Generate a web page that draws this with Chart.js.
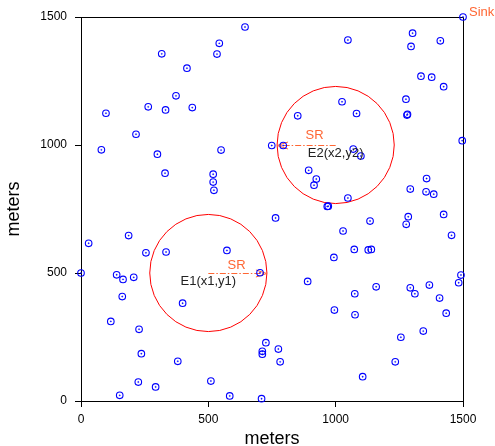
<!DOCTYPE html>
<html><head><meta charset="utf-8">
<script src="https://cdn.jsdelivr.net/npm/chart.js@4/dist/chart.umd.min.js"></script>
<style>html,body{margin:0;padding:0;background:#fff}</style>
</head><body>
<canvas id="c" width="495" height="446"></canvas>
<script>
// ---- data ----
const sensorX = [644,543,317,534,416,373,264,332,437,98,216,80,550,749,794,
  1302,1048,1296,1411,1335,1377,1424,1276,1280,1282,1025,1082,851,1497,1069,1099,
  894,924,915,1048,967,971,1357,1293,1355,1385,1424,764,1135,1285,1277,1455,1029,
  1073,1128,1140,993,890,1492,1483,1159,1293,1368,703,1075,1311,1408,1434,995,1076,
  1344,1256,1234,1106,726,712,712,775,782,709,162,399,117,228,237,380,225,293,152,
  510,584,300,330,519,519,522,187,30,255,334,573,0,140,165,207];
const sensorY = [1461,1397,1356,1355,1300,1192,1149,1137,1146,1124,1042,981,980,998,998,
  1437,1410,1385,1407,1269,1265,1228,1179,1117,1120,1169,1123,1114,1017,984,957,
  901,867,843,793,760,761,869,828,817,808,729,715,703,720,690,647,664,
  592,590,592,561,467,492,462,446,442,453,501,419,419,402,343,355,337,
  273,249,153,95,228,194,183,203,153,9,408,382,311,280,185,155,74,55,22,
  78,20,964,890,886,855,823,646,616,579,582,588,500,493,475,483];
const sinkX = [1500];
const sinkY = [1500];
const sinkLabel = ['Sink'];
const clusterNames = ['E1(x1,y1)', 'E2(x2,y2)'];
const clusterX = [500, 1000];
const clusterY = [500, 1000];
const clusterR = [230, 230];
const srDirection = [1, -1];
const clusterLabelX = [500, 1000];
const clusterLabelY = [466, 968];
const srLabel = ['SR', 'SR'];
const srLabelX = [611, 917];
const srLabelY = [531, 1039];
const tickValues = [0, 500, 1000, 1500];
const axisTitle = 'meters';

const FONT = '"Liberation Sans", Arial, Helvetica, sans-serif';
const ORANGE = '#ff6633';
const BLUE = '#0000ff';

const pts = sensorX.map((x, i) => ({x, y: sensorY[i]}));
const sinkPts = sinkX.map((x, i) => ({x, y: sinkY[i]}));

const overlay = {
  id: 'overlay',
  beforeDatasetsDraw(chart) {
    const {ctx, chartArea: a, scales: {x, y}} = chart;
    ctx.save();
    ctx.strokeStyle = '#000'; ctx.lineWidth = 1;
    ctx.beginPath();
    ctx.moveTo(a.left, a.top + 0.5); ctx.lineTo(a.right + 0.5, a.top + 0.5); ctx.lineTo(a.right + 0.5, a.bottom);
    ctx.stroke();
    ctx.strokeStyle = '#ff0000'; ctx.lineWidth = 1;
    clusterX.forEach((cx, i) => {
      const px = x.getPixelForValue(cx), py = y.getPixelForValue(clusterY[i]);
      const r = x.getPixelForValue(cx + clusterR[i]) - px;
      ctx.beginPath(); ctx.arc(px, py, r, 0, Math.PI * 2); ctx.stroke();
    });
    ctx.strokeStyle = ORANGE;
    clusterX.forEach((cx, i) => {
      const x0 = x.getPixelForValue(cx), py = Math.round(y.getPixelForValue(clusterY[i])) + 0.5;
      const x1 = x.getPixelForValue(cx + srDirection[i] * clusterR[i]);
      ctx.setLineDash([6, 2, 1.5, 2]);
      ctx.beginPath(); ctx.moveTo(x0, py); ctx.lineTo(x1, py); ctx.stroke();
      ctx.setLineDash([]);
      const d = srDirection[i];
      ctx.beginPath();
      ctx.moveTo(x1 - d * 11, py - 3.5); ctx.lineTo(x1, py); ctx.lineTo(x1 - d * 11, py + 3.5);
      ctx.stroke();
    });
    ctx.restore();
  },
  afterDatasetsDraw(chart) {
    const {ctx, scales: {x, y}} = chart;
    ctx.save();
    ctx.textAlign = 'center'; ctx.textBaseline = 'middle';
    ctx.font = '13px ' + FONT;
    ctx.fillStyle = '#222';
    clusterNames.forEach((t, i) => {
      ctx.fillText(t, x.getPixelForValue(clusterLabelX[i]), y.getPixelForValue(clusterLabelY[i]));
    });
    ctx.fillStyle = ORANGE;
    srLabel.forEach((t, i) => {
      ctx.fillText(t, x.getPixelForValue(srLabelX[i]), y.getPixelForValue(srLabelY[i]));
    });
    ctx.textAlign = 'left';
    sinkLabel.forEach((t, i) => {
      ctx.fillText(t, x.getPixelForValue(sinkX[i]) + 6, y.getPixelForValue(sinkY[i]) - 5);
    });
    ctx.restore();
  }
};

const axisCommon = {
  type: 'linear', min: 0, max: 1500,
  border: {display: true, color: '#000', width: 1},
  grid: {display: true, drawOnChartArea: false, drawTicks: true, tickLength: 6, color: '#000'},
  afterBuildTicks: (s) => { s.ticks = tickValues.map(v => ({value: v})); },
  title: {display: true, text: axisTitle, color: '#000', font: {family: FONT, size: 18}},
};
const tickFmt = (v) => String(v);

new Chart(document.getElementById('c'), {
  type: 'scatter',
  data: {
    datasets: [
      {data: pts, pointRadius: 3.3, pointBorderWidth: 1.1, pointBorderColor: BLUE, pointBackgroundColor: 'rgba(0,0,0,0)', clip: false},
      {data: pts, pointRadius: 0.7, pointBorderWidth: 0.3, pointBorderColor: BLUE, pointBackgroundColor: BLUE, clip: false},
      {data: sinkPts, pointRadius: 3.3, pointBorderWidth: 1.1, pointBorderColor: BLUE, pointBackgroundColor: 'rgba(0,0,0,0)', clip: false},
      {data: sinkPts, pointRadius: 0.7, pointBorderWidth: 0.3, pointBorderColor: BLUE, pointBackgroundColor: BLUE, clip: false}
    ]
  },
  options: {
    responsive: false, animation: false, devicePixelRatio: 1,
    layout: {padding: {top: 17, right: 32, left: 0, bottom: 0}},
    plugins: {legend: {display: false}, tooltip: {enabled: false}},
    scales: {
      x: Object.assign({}, axisCommon, {
        position: 'bottom',
        ticks: {color: '#000', font: {family: FONT, size: 12}, padding: 5, maxRotation: 0, callback: tickFmt},
        title: Object.assign({}, axisCommon.title, {font: {family: FONT, size: 18, lineHeight: 0.8}, padding: 0}),
        afterFit: (s) => { s.height = 45; }
      }),
      y: Object.assign({}, axisCommon, {
        position: 'left',
        ticks: {color: '#000', font: {family: FONT, size: 12}, padding: 8, callback: tickFmt},
        title: Object.assign({}, axisCommon.title, {padding: {top: 3, bottom: 0}}),
        afterFit: (s) => { s.width = 81; }
      })
    }
  },
  plugins: [overlay]
});
</script>
</body></html>
